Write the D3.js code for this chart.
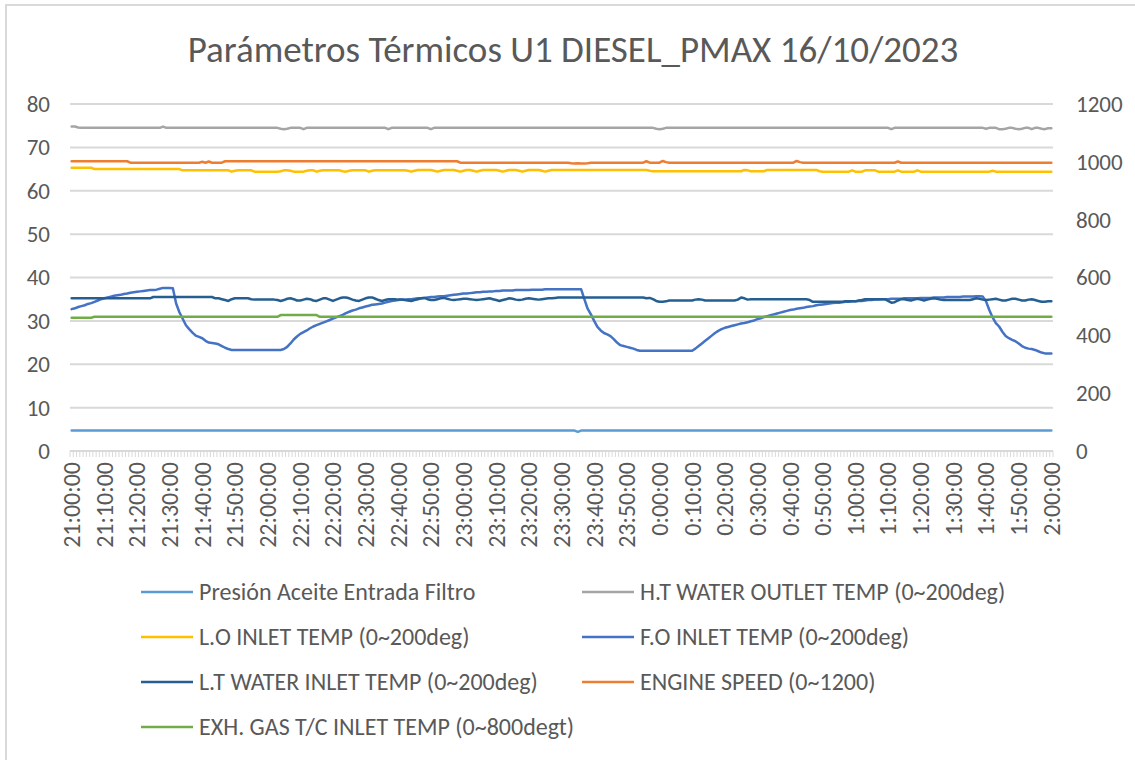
<!DOCTYPE html>
<html>
<head>
<meta charset="utf-8">
<script src="https://cdn.jsdelivr.net/npm/d3@7"></script>
<style>
  body { margin: 0; background: #fff; }
  text { font-family: Carlito, Lato, "Open Sans", sans-serif; fill: #595959; }
</style>
</head>
<body>
<svg id="chart" width="1135" height="760"></svg>
<script>
// one reading per minute, 21:00 -> 2:00
const startMinute = 21 * 60;
const categories = d3.range(301).map(i => {
  const t = (startMinute + i) % 1440;
  return Math.floor(t / 60) + ":" + String(t % 60).padStart(2, "0") + ":00";
});

const tickLabels = ["21:00:00","21:10:00","21:20:00","21:30:00","21:40:00","21:50:00",
  "22:00:00","22:10:00","22:20:00","22:30:00","22:40:00","22:50:00",
  "23:00:00","23:10:00","23:20:00","23:30:00","23:40:00","23:50:00",
  "0:00:00","0:10:00","0:20:00","0:30:00","0:40:00","0:50:00",
  "1:00:00","1:10:00","1:20:00","1:30:00","1:40:00","1:50:00","2:00:00"];

const leftTicks = [0, 10, 20, 30, 40, 50, 60, 70, 80];
const rightTicks = [0, 200, 400, 600, 800, 1000, 1200];

const seriesNames = ["Presión Aceite Entrada Filtro", "H.T WATER OUTLET TEMP (0~200deg)",
  "L.O INLET TEMP (0~200deg)", "F.O INLET TEMP (0~200deg)",
  "L.T WATER INLET TEMP (0~200deg)", "ENGINE SPEED (0~1200)",
  "EXH. GAS T/C INLET TEMP (0~800degt)"];

const presion = [
4.7,4.7,4.7,4.7,4.7,4.7,4.7,4.7,4.7,4.7,
4.7,4.7,4.7,4.7,4.7,4.7,4.7,4.7,4.7,4.7,
4.7,4.7,4.7,4.7,4.7,4.7,4.7,4.7,4.7,4.7,
4.7,4.7,4.7,4.7,4.7,4.7,4.7,4.7,4.7,4.7,
4.7,4.7,4.7,4.7,4.7,4.7,4.7,4.7,4.7,4.7,
4.7,4.7,4.7,4.7,4.7,4.7,4.7,4.7,4.7,4.7,
4.7,4.7,4.7,4.7,4.7,4.7,4.7,4.7,4.7,4.7,
4.7,4.7,4.7,4.7,4.7,4.7,4.7,4.7,4.7,4.7,
4.7,4.7,4.7,4.7,4.7,4.7,4.7,4.7,4.7,4.7,
4.7,4.7,4.7,4.7,4.7,4.7,4.7,4.7,4.7,4.7,
4.7,4.7,4.7,4.7,4.7,4.7,4.7,4.7,4.7,4.7,
4.7,4.7,4.7,4.7,4.7,4.7,4.7,4.7,4.7,4.7,
4.7,4.7,4.7,4.7,4.7,4.7,4.7,4.7,4.7,4.7,
4.7,4.7,4.7,4.7,4.7,4.7,4.7,4.7,4.7,4.7,
4.7,4.7,4.7,4.7,4.7,4.7,4.7,4.7,4.7,4.7,
4.7,4.7,4.7,4.7,4.7,4.4,4.7,4.7,4.7,4.7,
4.7,4.7,4.7,4.7,4.7,4.7,4.7,4.7,4.7,4.7,
4.7,4.7,4.7,4.7,4.7,4.7,4.7,4.7,4.7,4.7,
4.7,4.7,4.7,4.7,4.7,4.7,4.7,4.7,4.7,4.7,
4.7,4.7,4.7,4.7,4.7,4.7,4.7,4.7,4.7,4.7,
4.7,4.7,4.7,4.7,4.7,4.7,4.7,4.7,4.7,4.7,
4.7,4.7,4.7,4.7,4.7,4.7,4.7,4.7,4.7,4.7,
4.7,4.7,4.7,4.7,4.7,4.7,4.7,4.7,4.7,4.7,
4.7,4.7,4.7,4.7,4.7,4.7,4.7,4.7,4.7,4.7,
4.7,4.7,4.7,4.7,4.7,4.7,4.7,4.7,4.7,4.7,
4.7,4.7,4.7,4.7,4.7,4.7,4.7,4.7,4.7,4.7,
4.7,4.7,4.7,4.7,4.7,4.7,4.7,4.7,4.7,4.7,
4.7,4.7,4.7,4.7,4.7,4.7,4.7,4.7,4.7,4.7,
4.7,4.7,4.7,4.7,4.7,4.7,4.7,4.7,4.7,4.7,
4.7,4.7,4.7,4.7,4.7,4.7,4.7,4.7,4.7,4.7,
4.7];

const htWater = [
74.8,74.8,74.6,74.5,74.5,74.5,74.5,74.5,74.5,74.5,
74.5,74.5,74.5,74.5,74.5,74.5,74.5,74.5,74.5,74.5,
74.5,74.5,74.5,74.5,74.5,74.5,74.5,74.5,74.8,74.5,
74.5,74.5,74.5,74.5,74.5,74.5,74.5,74.5,74.5,74.5,
74.5,74.5,74.5,74.5,74.5,74.5,74.5,74.5,74.5,74.5,
74.5,74.5,74.5,74.5,74.5,74.5,74.5,74.5,74.5,74.5,
74.5,74.5,74.5,74.5,74.3,74.2,74.3,74.5,74.5,74.5,
74.5,74.2,74.5,74.5,74.5,74.5,74.5,74.5,74.5,74.5,
74.5,74.5,74.5,74.5,74.5,74.5,74.5,74.5,74.5,74.5,
74.5,74.5,74.5,74.5,74.5,74.5,74.5,74.2,74.5,74.5,
74.5,74.5,74.5,74.5,74.5,74.5,74.5,74.5,74.5,74.5,
74.2,74.5,74.5,74.5,74.5,74.5,74.5,74.5,74.5,74.5,
74.5,74.5,74.5,74.5,74.5,74.5,74.5,74.5,74.5,74.5,
74.5,74.5,74.5,74.5,74.5,74.5,74.5,74.5,74.5,74.5,
74.5,74.5,74.5,74.5,74.5,74.5,74.5,74.5,74.5,74.5,
74.5,74.5,74.5,74.5,74.5,74.5,74.5,74.5,74.5,74.5,
74.5,74.5,74.5,74.5,74.5,74.5,74.5,74.5,74.5,74.5,
74.5,74.5,74.5,74.5,74.5,74.5,74.5,74.5,74.5,74.3,
74.2,74.3,74.5,74.5,74.5,74.5,74.5,74.5,74.5,74.5,
74.5,74.5,74.5,74.5,74.5,74.5,74.5,74.5,74.5,74.5,
74.5,74.5,74.5,74.5,74.5,74.5,74.5,74.5,74.5,74.5,
74.5,74.5,74.5,74.5,74.5,74.5,74.5,74.5,74.5,74.5,
74.5,74.5,74.5,74.5,74.5,74.5,74.5,74.5,74.5,74.5,
74.5,74.5,74.5,74.5,74.5,74.5,74.5,74.5,74.5,74.5,
74.5,74.5,74.5,74.5,74.5,74.5,74.5,74.5,74.5,74.5,
74.5,74.2,74.5,74.5,74.5,74.5,74.5,74.5,74.5,74.5,
74.5,74.5,74.5,74.5,74.5,74.5,74.5,74.5,74.5,74.5,
74.5,74.5,74.5,74.5,74.5,74.5,74.5,74.5,74.5,74.5,
74.3,74.5,74.5,74.5,74.2,74.2,74.3,74.5,74.5,74.3,
74.2,74.3,74.5,74.5,74.2,74.5,74.5,74.3,74.2,74.4,
74.4];

const loInlet = [
65.3,65.3,65.3,65.3,65.3,65.3,65.3,65.0,65.0,65.0,
65.0,65.0,65.0,65.0,65.0,65.0,65.0,65.0,65.0,65.0,
65.0,65.0,65.0,65.0,65.0,65.0,65.0,65.0,65.0,65.0,
65.0,65.0,65.0,65.0,64.7,64.7,64.7,64.7,64.7,64.7,
64.7,64.7,64.7,64.7,64.7,64.7,64.7,64.7,64.7,64.4,
64.6,64.7,64.7,64.7,64.7,64.7,64.4,64.4,64.4,64.4,
64.4,64.4,64.4,64.4,64.5,64.7,64.7,64.6,64.4,64.4,
64.4,64.4,64.6,64.7,64.7,64.4,64.6,64.7,64.7,64.7,
64.7,64.7,64.7,64.5,64.4,64.6,64.7,64.7,64.7,64.7,
64.7,64.4,64.6,64.7,64.7,64.7,64.7,64.7,64.7,64.7,
64.7,64.7,64.7,64.6,64.4,64.6,64.8,64.8,64.8,64.8,
64.8,64.6,64.4,64.6,64.8,64.8,64.8,64.8,64.6,64.4,
64.6,64.8,64.8,64.6,64.4,64.6,64.8,64.8,64.8,64.8,
64.8,64.6,64.4,64.6,64.8,64.8,64.8,64.6,64.4,64.6,
64.8,64.8,64.8,64.8,64.6,64.4,64.6,64.8,64.8,64.8,
64.8,64.8,64.8,64.8,64.8,64.8,64.8,64.8,64.8,64.8,
64.8,64.8,64.8,64.8,64.8,64.8,64.8,64.8,64.8,64.8,
64.8,64.8,64.8,64.8,64.8,64.8,64.8,64.6,64.5,64.5,
64.5,64.5,64.5,64.5,64.5,64.5,64.5,64.5,64.5,64.5,
64.5,64.5,64.5,64.5,64.5,64.5,64.5,64.5,64.5,64.5,
64.5,64.5,64.5,64.5,64.5,64.5,64.8,64.7,64.5,64.5,
64.5,64.5,64.5,64.8,64.8,64.8,64.8,64.8,64.8,64.8,
64.8,64.8,64.8,64.8,64.8,64.8,64.8,64.8,64.8,64.5,
64.4,64.4,64.4,64.4,64.4,64.4,64.4,64.4,64.4,64.7,
64.4,64.4,64.4,64.7,64.7,64.7,64.7,64.4,64.4,64.4,
64.4,64.4,64.4,64.7,64.4,64.4,64.4,64.4,64.4,64.7,
64.4,64.4,64.4,64.4,64.4,64.4,64.4,64.4,64.4,64.4,
64.4,64.4,64.4,64.4,64.4,64.4,64.4,64.4,64.4,64.4,
64.4,64.4,64.6,64.4,64.4,64.4,64.4,64.4,64.4,64.4,
64.4,64.4,64.4,64.4,64.4,64.4,64.4,64.4,64.4,64.4,
64.4];

const foInlet = [
32.7,32.9,33.2,33.4,33.6,33.9,34.1,34.4,34.7,35.0,
35.2,35.4,35.6,35.8,35.9,36.0,36.2,36.3,36.5,36.6,
36.7,36.8,36.9,37.0,37.1,37.1,37.2,37.4,37.6,37.6,
37.6,37.5,34.0,32.0,30.5,29.0,28.1,27.3,26.6,26.3,
26.0,25.4,25.0,24.9,24.8,24.6,24.2,23.8,23.5,23.3,
23.3,23.3,23.3,23.3,23.3,23.3,23.3,23.3,23.3,23.3,
23.3,23.3,23.3,23.3,23.3,23.5,24.0,24.8,25.7,26.4,
27.0,27.4,27.8,28.3,28.7,29.0,29.3,29.6,29.9,30.2,
30.5,30.8,31.1,31.4,31.8,32.1,32.4,32.6,32.9,33.1,
33.3,33.5,33.7,33.8,33.9,34.0,34.2,34.4,34.6,34.7,
34.8,34.9,34.9,35.0,35.0,35.1,35.2,35.2,35.3,35.4,
35.5,35.5,35.6,35.7,35.7,35.8,35.9,36.0,36.1,36.2,
36.3,36.3,36.4,36.5,36.6,36.6,36.7,36.7,36.8,36.8,
36.9,36.9,37.0,37.0,37.0,37.0,37.1,37.1,37.1,37.1,
37.1,37.2,37.2,37.2,37.2,37.3,37.3,37.3,37.3,37.3,
37.3,37.3,37.3,37.3,37.3,37.3,37.3,35.0,32.8,31.5,
30.0,28.6,27.8,27.2,26.9,26.5,25.8,25.0,24.4,24.2,
24.0,23.8,23.6,23.3,23.1,23.1,23.1,23.1,23.1,23.1,
23.1,23.1,23.1,23.1,23.1,23.1,23.1,23.1,23.1,23.1,
23.1,23.6,24.2,24.8,25.4,26.0,26.6,27.2,27.7,28.1,
28.4,28.6,28.8,29.0,29.2,29.4,29.5,29.7,29.9,30.1,
30.4,30.6,30.9,31.1,31.3,31.5,31.7,31.9,32.1,32.3,
32.5,32.6,32.8,32.9,33.0,33.2,33.3,33.4,33.6,33.7,
33.8,33.9,34.0,34.1,34.2,34.2,34.3,34.4,34.4,34.5,
34.5,34.6,34.6,34.7,34.8,34.8,34.9,34.9,35.0,35.0,
35.0,35.1,35.1,35.1,35.1,35.2,35.2,35.2,35.2,35.2,
35.3,35.3,35.3,35.3,35.4,35.4,35.4,35.4,35.5,35.5,
35.5,35.5,35.5,35.6,35.6,35.6,35.6,35.7,35.7,35.6,
34.5,32.5,30.8,29.5,28.7,27.5,26.5,26.0,25.6,25.3,
24.8,24.2,23.8,23.6,23.5,23.3,23.0,22.7,22.5,22.5,
22.5];

const ltWater = [
35.2,35.2,35.2,35.2,35.2,35.2,35.2,35.2,35.2,35.2,
35.2,35.2,35.2,35.2,35.2,35.2,35.2,35.2,35.2,35.2,
35.2,35.2,35.2,35.2,35.2,35.5,35.5,35.5,35.5,35.5,
35.5,35.5,35.5,35.5,35.5,35.5,35.5,35.5,35.5,35.5,
35.5,35.5,35.5,35.5,35.2,35.2,35.0,34.8,34.6,35.0,
35.2,35.2,35.2,35.2,35.2,35.0,34.9,34.9,34.9,34.9,
34.9,34.9,34.9,34.8,34.6,34.8,35.1,35.2,35.0,34.7,
34.7,34.9,35.1,35.0,34.7,34.6,34.9,35.2,35.2,34.9,
34.6,34.9,35.2,35.4,35.4,35.2,34.9,34.7,34.6,34.9,
35.2,35.4,35.4,35.1,34.8,34.6,34.8,35.0,35.0,35.0,
34.9,34.9,34.8,34.7,34.6,34.8,35.0,35.2,35.3,35.0,
34.8,34.8,35.0,35.2,35.3,35.1,34.9,34.8,34.9,35.0,
35.1,35.1,35.0,34.9,34.8,34.9,35.0,35.1,35.2,35.0,
34.8,34.6,34.8,35.0,35.2,35.1,34.9,34.8,34.9,35.1,
35.2,35.1,35.0,34.9,35.0,35.1,35.2,35.2,35.3,35.4,
35.4,35.4,35.4,35.4,35.4,35.4,35.4,35.4,35.4,35.4,
35.4,35.4,35.4,35.4,35.4,35.4,35.4,35.4,35.4,35.4,
35.4,35.4,35.4,35.4,35.4,35.4,35.2,35.3,35.0,34.6,
34.4,34.4,34.5,34.7,34.7,34.7,34.7,34.7,34.7,34.7,
34.7,34.9,35.0,34.9,34.7,34.7,34.7,34.7,34.7,34.7,
34.7,34.7,34.7,34.7,34.9,35.4,35.2,34.9,35.0,35.0,
35.0,35.0,35.0,35.0,35.0,35.0,35.0,35.0,35.0,35.0,
35.0,35.0,35.0,35.0,35.0,35.0,34.8,34.4,34.4,34.4,
34.4,34.4,34.4,34.4,34.4,34.4,34.4,34.5,34.5,34.5,
34.5,34.7,34.8,35.0,35.0,35.0,35.0,35.0,35.0,35.0,
34.6,34.2,34.3,34.7,35.0,35.0,34.8,34.7,34.9,35.1,
34.9,34.7,34.9,35.1,35.2,35.1,34.9,34.8,34.8,34.8,
34.8,34.8,34.8,34.8,34.8,34.8,35.0,35.2,35.1,34.9,
34.8,34.9,35.0,35.1,34.9,34.7,34.7,34.9,35.1,35.1,
34.9,34.7,34.7,34.9,35.0,34.8,34.6,34.4,34.4,34.5,
34.5];

const engineSpeed = [
1002,1002,1002,1002,1002,1002,1002,1002,1002,1002,
1002,1002,1002,1002,1002,1002,1002,1002,997,997,
997,997,997,997,997,997,997,997,997,997,
997,997,997,997,997,997,997,997,997,997,
1000,997,1001,997,997,997,997,1002,1002,1002,
1002,1002,1002,1002,1002,1002,1002,1002,1002,1002,
1002,1002,1002,1002,1002,1002,1002,1002,1002,1002,
1002,1002,1002,1002,1002,1002,1002,1002,1002,1002,
1002,1002,1002,1002,1002,1002,1002,1002,1002,1002,
1002,1002,1002,1002,1002,1002,1002,1002,1002,1002,
1002,1002,1002,1002,1002,1002,1002,1002,1002,1002,
1002,1002,1002,1002,1002,1002,1002,1002,1002,997,
997,997,997,997,997,997,997,997,997,997,
997,997,997,997,997,997,997,997,997,997,
997,997,997,997,997,997,997,997,997,997,
997,997,997,995,994,995,994,994,995,997,
997,997,997,997,997,997,997,997,997,997,
997,997,997,997,997,997,1002,997,997,997,
997,1003,999,997,997,997,997,997,997,997,
997,997,997,997,997,997,997,997,997,997,
997,997,997,997,997,997,997,997,997,997,
997,997,997,997,997,997,997,997,997,997,
997,997,1003,999,997,997,997,997,997,997,
997,997,997,997,997,997,997,997,997,997,
997,997,997,997,997,997,997,997,997,997,
997,997,997,1001,997,997,997,997,997,997,
997,997,997,997,997,997,997,997,997,997,
997,997,997,997,997,997,997,997,997,997,
997,997,997,997,997,997,997,997,997,997,
997,997,997,997,997,997,997,997,997,997,
997];

const exhGas = [
461,461,461,461,461,461,461,464,464,464,
464,464,464,464,464,464,464,464,464,464,
464,464,464,464,464,464,464,464,464,464,
464,464,464,464,464,464,464,464,464,464,
464,464,464,464,464,464,464,464,464,464,
464,464,464,464,464,464,464,464,464,464,
464,464,464,464,470,470,470,470,470,470,
470,470,470,470,470,470,464,464,464,464,
464,464,464,464,464,464,464,464,464,464,
464,464,464,464,464,464,464,464,464,464,
464,464,464,464,464,464,464,464,464,464,
464,464,464,464,464,464,464,464,464,464,
464,464,464,464,464,464,464,464,464,464,
464,464,464,464,464,464,464,464,464,464,
464,464,464,464,464,464,464,464,464,464,
464,464,464,464,464,464,464,464,464,464,
464,464,464,464,464,464,464,464,464,464,
464,464,464,464,464,464,464,464,464,464,
464,464,464,464,464,464,464,464,464,464,
464,464,464,464,464,464,464,464,464,464,
464,464,464,464,464,464,464,464,464,464,
464,464,464,464,464,464,464,464,464,464,
464,464,464,464,464,464,464,464,464,464,
464,464,464,464,464,464,464,464,464,464,
464,464,464,464,464,464,464,464,464,464,
464,464,464,464,464,464,464,464,464,464,
464,464,464,464,464,464,464,464,464,464,
464,464,464,464,464,464,464,464,464,464,
464,464,464,464,464,464,464,464,464,464,
464,464,464,464,464,464,464,464,464,464,
464];

// styling per series: colour + which axis
const seriesValues = [presion, htWater, loInlet, foInlet, ltWater, engineSpeed, exhGas];
const seriesColors = ["#5B9BD5", "#A5A5A5", "#FFC000", "#4472C4", "#255E91", "#ED7D31", "#70AD47"];
const seriesAxis = ["left", "left", "left", "left", "left", "right", "right"];

seriesValues.forEach((s, i) => {
  if (s.length !== categories.length) throw new Error(seriesNames[i] + " has " + s.length + " values");
});

const svg = d3.select("#chart");
const plotLeft = 70, plotRight = 1053, plotTop = 104, plotBottom = 451;

// chart area border
svg.append("rect")
  .attr("x", 6).attr("y", 5)
  .attr("width", 1160).attr("height", 790)
  .attr("fill", "none")
  .attr("stroke", "#d9d9d9")
  .attr("stroke-width", 2);

svg.append("text")
  .attr("x", 573).attr("y", 62)
  .attr("text-anchor", "middle")
  .style("font-size", "37px")
  .text("Parámetros Térmicos U1 DIESEL_PMAX 16/10/2023");

const x = d3.scaleBand()
  .domain(d3.range(categories.length))
  .range([plotLeft, plotRight])
  .paddingInner(0).paddingOuter(0);
const bw = x.bandwidth();

const yLeft = d3.scaleLinear().domain([0, 80]).range([plotBottom, plotTop]);
const yRight = d3.scaleLinear().domain([0, 1200]).range([plotBottom, plotTop]);

// gridlines
svg.append("g")
  .selectAll("line")
  .data(leftTicks)
  .join("line")
  .attr("x1", plotLeft).attr("x2", plotRight)
  .attr("y1", d => yLeft(d)).attr("y2", d => yLeft(d))
  .attr("stroke", "#d9d9d9")
  .attr("stroke-width", 2);

// category tick marks between every minute
const boundaries = d3.range(categories.length).map(i => x(i)).concat([plotRight]);
svg.append("g")
  .selectAll("line")
  .data(boundaries)
  .join("line")
  .attr("x1", d => d).attr("x2", d => d)
  .attr("y1", plotBottom).attr("y2", plotBottom + 6)
  .attr("stroke", "#d9d9d9")
  .attr("stroke-width", 1);

// left axis
const leftAxis = svg.append("g")
  .attr("transform", "translate(" + plotLeft + ",0)")
  .call(d3.axisLeft(yLeft).tickValues(leftTicks).tickSize(0).tickPadding(20));
leftAxis.select(".domain").remove();
leftAxis.selectAll("text").style("font-size", "23px").style("fill", "#595959");

// right axis
const rightAxis = svg.append("g")
  .attr("transform", "translate(" + plotRight + ",0)")
  .call(d3.axisRight(yRight).tickValues(rightTicks).tickFormat(d3.format("d")).tickSize(0).tickPadding(23));
rightAxis.select(".domain").remove();
rightAxis.selectAll("text").style("font-size", "23px").style("fill", "#595959");

// time labels, rotated
const tickIdx = tickLabels.map(t => categories.indexOf(t));
const bottomAxis = svg.append("g")
  .attr("transform", "translate(0," + plotBottom + ")")
  .call(d3.axisBottom(x).tickValues(tickIdx).tickFormat(i => categories[i]).tickSize(0));
bottomAxis.select(".domain").remove();
bottomAxis.selectAll("text")
  .attr("y", 0).attr("x", -11)
  .attr("dy", "0.35em")
  .attr("transform", "rotate(-90)")
  .style("text-anchor", "end")
  .style("font-size", "24px")
  .style("fill", "#595959");

// series lines
const lines = svg.append("g");
seriesValues.forEach((vals, i) => {
  const yScale = seriesAxis[i] === "right" ? yRight : yLeft;
  const line = d3.line()
    .x((d, j) => x(j) + bw / 2)
    .y(d => yScale(d));
  lines.append("path")
    .datum(vals)
    .attr("d", line)
    .attr("fill", "none")
    .attr("stroke", seriesColors[i])
    .attr("stroke-width", 2.5)
    .attr("stroke-linejoin", "round")
    .attr("stroke-linecap", "round");
});

// legend, two columns
const legend = svg.append("g");
const legendItems = legend.selectAll("g")
  .data(seriesNames)
  .join("g")
  .attr("transform", (d, i) => "translate(" + [141, 582][i % 2] + "," + (592 + Math.floor(i / 2) * 45) + ")");
legendItems.append("line")
  .attr("x1", 0).attr("x2", 52)
  .attr("stroke", (d, i) => seriesColors[i])
  .attr("stroke-width", 2.5);
legendItems.append("text")
  .attr("x", 58).attr("dy", "0.35em")
  .style("font-size", "24px")
  .text(d => d);
</script>
</body>
</html>
